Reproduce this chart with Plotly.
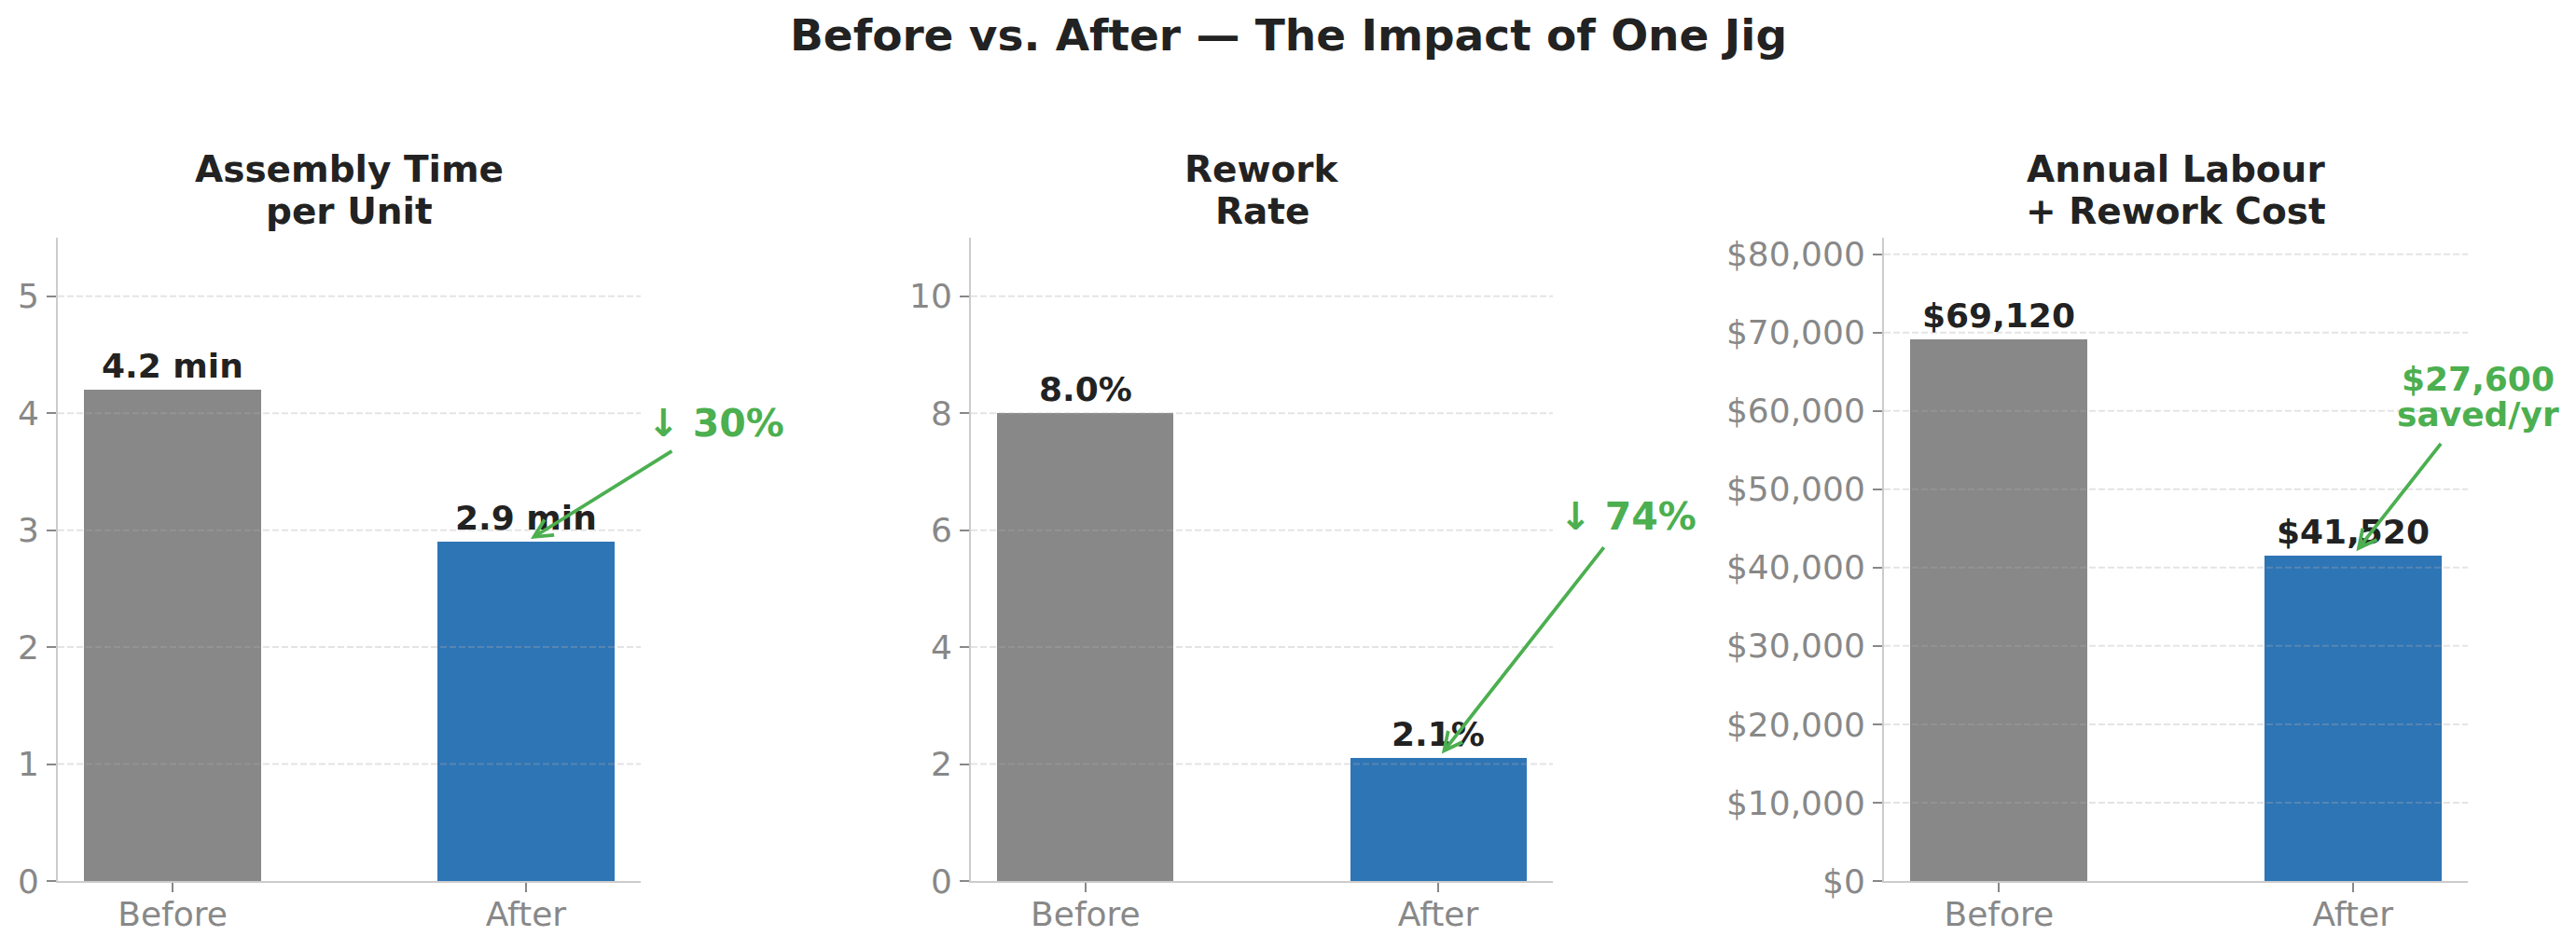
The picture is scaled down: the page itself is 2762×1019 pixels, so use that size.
import plotly.graph_objects as go

# ---------------- data ----------------
categories = ["Before", "After"]
assembly_time = [4.2, 2.9]
rework_rate = [8.0, 2.1]
annual_cost = [69120, 41520]

labels_time = ["4.2 min", "2.9 min"]
labels_rework = ["8.0%", "2.1%"]
labels_cost = ["$69,120", "$41,520"]

panel_titles = [["Assembly Time", "per Unit"],
                ["Rework", "Rate"],
                ["Annual Labour", "+ Rework Cost"]]
callout_texts = [["↓ 30%"], ["↓ 74%"], ["$27,600", "saved/yr"]]

ticks_time = [0, 1, 2, 3, 4, 5]
ticks_rework = [0, 2, 4, 6, 8, 10]
ticks_cost = [0, 10000, 20000, 30000, 40000, 50000, 60000, 70000, 80000]
ticktext_cost = ["$" + f"{v:,}" for v in ticks_cost]

main_title = "Before vs. After — The Impact of One Jig"

# ---------------- style / layout ----------------
W, H = 2762, 1019          # browser window
OFF = 8                    # default body margin of the html page
FW, FH = W - 2 * OFF, H - 2 * OFF   # figure size

GRAY = "#888888"
BLUE = "#2E75B6"
GREEN = "#4CAF50"
DARK = "#222222"
TICK = "#888888"
SPINE = "#CCCCCC"
GRID = "rgba(170,170,170,0.32)"
FONT = "DejaVu Sans"


def px_x(x):
    return (x - OFF) / FW


def px_y(y):
    return 1 - (y - OFF) / FH


x_dom_px = [(62, 687), (1041, 1665), (2020, 2646)]
y_dom_px = (255, 945)
x_range = [-0.325, 1.325]
y_ranges = [[0, 5.5], [0, 11], [0, 82100]]
callout_pos = [(1.538, 3.91), (1.538, 6.23), (1.353, 61800)]
callout_size = [41, 41, 36]
arrow_start_off = [54, 40, 62]

values = [assembly_time, rework_rate, annual_cost]
bar_labels = [labels_time, labels_rework, labels_cost]
tickvals = [ticks_time, ticks_rework, ticks_cost]
ticktexts = [[str(v) for v in ticks_time], [str(v) for v in ticks_rework], ticktext_cost]

fig = go.Figure()
annotations = []
shapes = []

ydom = [px_y(y_dom_px[1]), px_y(y_dom_px[0])]


def to_paper(i, xv, yv):
    xd = [px_x(x_dom_px[i][0]), px_x(x_dom_px[i][1])]
    yr = y_ranges[i]
    px = xd[0] + (xv - x_range[0]) / (x_range[1] - x_range[0]) * (xd[1] - xd[0])
    py = ydom[0] + (yv - yr[0]) / (yr[1] - yr[0]) * (ydom[1] - ydom[0])
    return px, py


for i in range(3):
    sfx = "" if i == 0 else str(i + 1)
    xa, ya = "x" + sfx, "y" + sfx
    fig.add_trace(go.Bar(
        x=[0, 1], y=values[i], width=0.5,
        marker=dict(color=[GRAY, BLUE], line=dict(width=0)),
        xaxis=xa, yaxis=ya, showlegend=False, hoverinfo="skip",
    ))
    xd = [px_x(x_dom_px[i][0]), px_x(x_dom_px[i][1])]
    fig.layout["xaxis" + sfx] = dict(
        domain=xd, range=x_range, anchor=ya,
        tickvals=[0, 1], ticktext=categories,
        showline=True, linecolor=SPINE, linewidth=2,
        ticks="outside", ticklen=10, tickwidth=2, tickcolor=TICK,
        tickfont=dict(size=36, color=TICK, family=FONT),
        showgrid=False, zeroline=False, fixedrange=True, automargin=False,
        ticklabelstandoff=-7, layer="above traces",
    )
    fig.layout["yaxis" + sfx] = dict(
        domain=ydom, range=y_ranges[i], anchor=xa,
        tickvals=tickvals[i], ticktext=ticktexts[i],
        showline=True, linecolor=SPINE, linewidth=2,
        ticks="outside", ticklen=10, tickwidth=2, tickcolor=TICK,
        tickfont=dict(size=36, color=TICK, family=FONT),
        showgrid=False, zeroline=False, fixedrange=True, automargin=False,
        ticklabelstandoff=1, layer="above traces",
    )
    # dashed grid drawn above bars (like matplotlib)
    for v in tickvals[i][1:]:
        shapes.append(dict(
            type="line", xref=xa + " domain", yref=ya,
            x0=0, x1=1, y0=v, y1=v, layer="above",
            line=dict(color=GRID, width=2, dash="7px,3px"),
        ))
    # panel titles (two lines)
    cx = (xd[0] + xd[1]) / 2
    for line, ypx in zip(panel_titles[i], (182, 226)):
        annotations.append(dict(
            text="<b>" + line + "</b>", x=cx, y=px_y(ypx),
            xref="paper", yref="paper", xanchor="center", yanchor="middle",
            showarrow=False, font=dict(size=39, color=DARK, family=FONT),
        ))
    # bar value labels
    for j in range(2):
        annotations.append(dict(
            text="<b>" + bar_labels[i][j] + "</b>", x=j, y=values[i][j],
            xref=xa, yref=ya, xanchor="center", yanchor="bottom", yshift=3,
            showarrow=False, font=dict(size=36, color=DARK, family=FONT),
        ))
    # callout text (placed in paper coords so it can sit outside the axis range)
    tx, ty = callout_pos[i]
    ppx, ppy = to_paper(i, tx, ty)
    lines = callout_texts[i]
    n = len(lines)
    step = 37.3
    for k, line in enumerate(lines):
        annotations.append(dict(
            text="<b>" + line + "</b>", x=ppx, y=ppy,
            xref="paper", yref="paper", xanchor="center", yanchor="middle",
            yshift=((n - 1) / 2 - k) * step,
            showarrow=False, font=dict(size=callout_size[i], color=GREEN, family=FONT),
        ))
    # arrow
    annotations.append(dict(
        text="", x=1, y=values[i][1], xref=xa, yref=ya,
        ax=tx, ay=ty, axref=xa, ayref=ya,
        showarrow=True, arrowhead=5, arrowsize=1, arrowwidth=3.8,
        arrowcolor=GREEN, standoff=6, startstandoff=arrow_start_off[i],
    ))

annotations.append(dict(
    text="<b>" + main_title + "</b>", x=px_x(W / 2), y=px_y(37.5),
    xref="paper", yref="paper", xanchor="center", yanchor="middle",
    showarrow=False, font=dict(size=47, color=DARK, family=FONT),
))

fig.update_layout(
    width=FW, height=FH,
    margin=dict(l=0, r=0, t=0, b=0, autoexpand=False),
    paper_bgcolor="white", plot_bgcolor="white",
    font=dict(family=FONT, color=DARK),
    annotations=annotations, shapes=shapes,
    bargap=0, showlegend=False,
)

fig.write_html("out.html")
